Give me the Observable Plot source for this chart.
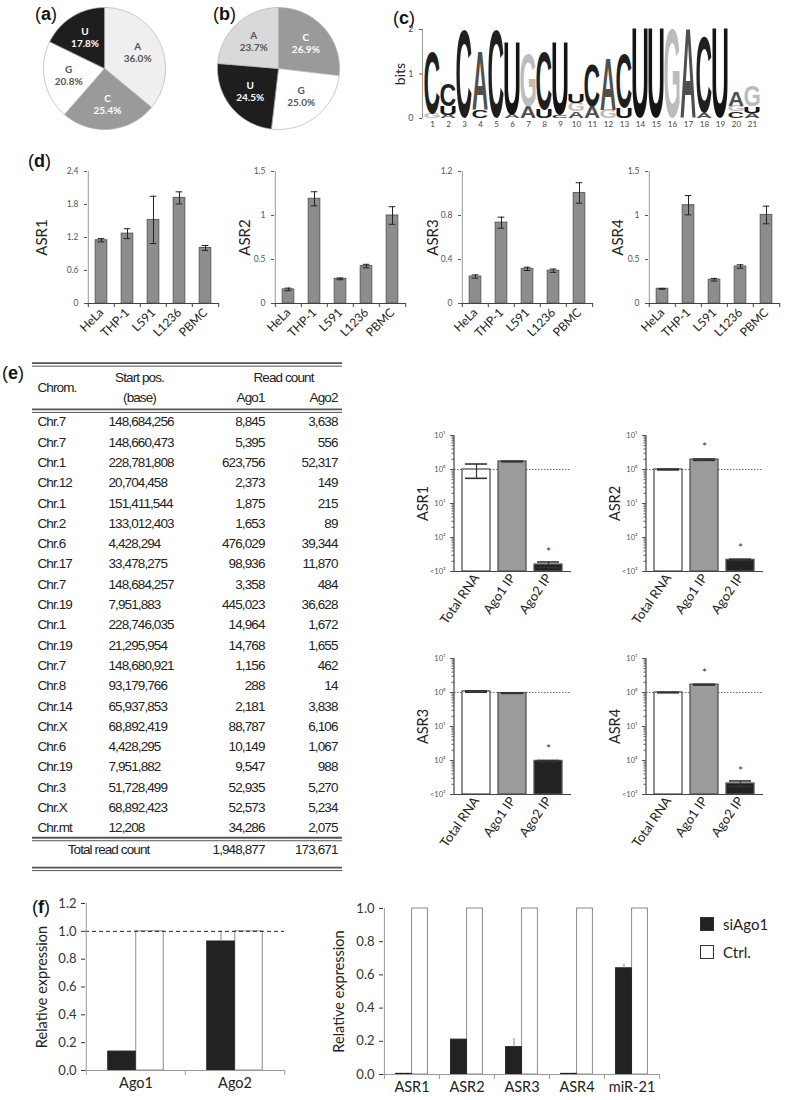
<!DOCTYPE html>
<html><head><meta charset="utf-8">
<script src="https://cdn.jsdelivr.net/npm/d3@7"></script>
<script src="https://cdn.jsdelivr.net/npm/@observablehq/plot@0.6"></script>
<style>
body{margin:0;background:#fff;}
#root{position:relative;width:800px;height:1100px;overflow:hidden;background:#fff;font-family:Lato,"Open Sans",sans-serif;}
.plabel{position:absolute;font-family:"Liberation Sans",Arial,sans-serif;font-size:18px;line-height:18px;color:#111;white-space:nowrap;}
.leg{position:absolute;font-family:Lato,"Open Sans",sans-serif;font-size:15px;color:#222;display:flex;align-items:center;gap:9px;}
.sw{width:14px;height:14px;border:1.5px solid #333;box-sizing:border-box;}
</style></head><body><div id="root"></div>
<script>
// ================= DATA =================
// (a) / (b) nucleotide composition pies
const pieALabels = ["A","C","G","U"];
const pieAValues = [36.0, 25.4, 20.8, 17.8];
const pieBLabels = ["C","G","U","A"];
const pieBValues = [26.9, 25.0, 24.5, 23.7];

// (c) sequence logo: per position, stacked letters bottom -> top with height in bits
const logoPositions = d3.range(1, 22);
const logoStacks = [
  [["G",0.10],["C",1.40]],
  [["A",0.07],["U",0.19],["C",0.49]],
  [["C",1.97]],
  [["C",0.18],["A",1.32]],
  [["C",1.97]],
  [["A",0.07],["U",1.63]],
  [["A",0.26],["G",1.18]],
  [["U",0.19],["C",1.31]],
  [["C",0.07],["U",1.63]],
  [["A",0.15],["G",0.19],["U",0.21]],
  [["A",0.26],["C",0.94]],
  [["G",0.19],["A",1.17]],
  [["U",0.22],["C",1.20]],
  [["U",2.0]],
  [["U",2.0]],
  [["G",2.0]],
  [["A",2.0]],
  [["A",0.11],["C",1.71]],
  [["U",2.0]],
  [["C",0.15],["G",0.13],["A",0.32]],
  [["A",0.11],["U",0.15],["G",0.47]]
];
const logoTicks = [0, 1, 2];

// (d) expression in cell lines
const dCells = ["HeLa","THP-1","L591","L1236","PBMC"];
const asr1Expr = [1.15, 1.27, 1.52, 1.92, 1.01];
const asr1Err  = [0.03, 0.09, 0.43, 0.11, 0.045];
const asr2Expr = [0.16, 1.19, 0.28, 0.425, 1.0];
const asr2Err  = [0.015, 0.08, 0.01, 0.02, 0.1];
const asr3Expr = [0.245, 0.735, 0.315, 0.298, 1.005];
const asr3Err  = [0.015, 0.05, 0.015, 0.015, 0.093];
const asr4Expr = [0.167, 1.117, 0.27, 0.42, 1.006];
const asr4Err  = [0.005, 0.11, 0.015, 0.02, 0.1];
const asr1Ticks = [0, 0.6, 1.2, 1.8, 2.4];
const asr2Ticks = [0, 0.5, 1, 1.5];
const asr3Ticks = [0, 0.4, 0.8, 1.2];
const asr4Ticks = [0, 0.5, 1, 1.5];

// (e) table
const tChrom = ["Chr.7","Chr.7","Chr.1","Chr.12","Chr.1","Chr.2","Chr.6","Chr.17","Chr.7","Chr.19","Chr.1","Chr.19","Chr.7","Chr.8","Chr.14","Chr.X","Chr.6","Chr.19","Chr.3","Chr.X","Chr.mt"];
const tStart = ["148,684,256","148,660,473","228,781,808","20,704,458","151,411,544","133,012,403","4,428,294","33,478,275","148,684,257","7,951,883","228,746,035","21,295,954","148,680,921","93,179,766","65,937,853","68,892,419","4,428,295","7,951,882","51,728,499","68,892,423","12,208"];
const tAgo1 = ["8,845","5,395","623,756","2,373","1,875","1,653","476,029","98,936","3,358","445,023","14,964","14,768","1,156","288","2,181","88,787","10,149","9,547","52,935","52,573","34,286"];
const tAgo2 = ["3,638","556","52,317","149","215","89","39,344","11,870","484","36,628","1,672","1,655","462","14","3,838","6,106","1,067","988","5,270","5,234","2,075"];
const tTotals = ["1,948,877","173,671"];

// (e) IP enrichment (log scale)
const ipSamples = ["Total RNA","Ago1 IP","Ago2 IP"];
const asr1IP = [1.0, 1.72, 0.0016];  const asr1IPErr = [0.45, 0.04, 0.0003]; const asr1Star = [false,false,true];
const asr2IP = [1.0, 1.95, 0.0022];  const asr2IPErr = [0.03, 0.09, 0.0001]; const asr2Star = [false,true,true];
const asr3IP = [1.07, 0.96, 0.0097]; const asr3IPErr = [0.05, 0.02, 0.0003]; const asr3Star = [false,false,true];
const asr4IP = [1.0, 1.70, 0.0021];  const asr4IPErr = [0.02, 0.05, 0.0004]; const asr4Star = [false,true,true];
const ipMajor = [10, 1, 0.1, 0.01, 0.001];
const ipMajorLabels = ["10\u00b9","10\u2070","10\u00b9","10\u00b2","<10\u00b3"];

// (f) knockdown
const fLeftGenes = ["Ago1","Ago2"];
const fLeftSi = [0.136, 0.927];
const fLeftSiErr = [0.004, 0.075];
const fLeftCtrl = [1.0, 1.0];
const fRightGenes = ["ASR1","ASR2","ASR3","ASR4","miR-21"];
const fRightSi = [0.004, 0.21, 0.165, 0.004, 0.64];
const fRightSiErr = [0.002, 0.003, 0.052, 0.002, 0.025];
const fRightCtrl = [1.0, 1.0, 1.0, 1.0, 1.0];
const fLegend = ["siAgo1","Ctrl."];

// ================= LAYOUT / HELPERS =================
const root = document.getElementById("root");
const FONT = 'Lato, "Open Sans", sans-serif';
const TFONT = '"Liberation Sans", Arial, sans-serif';
const STYLE = {background:"transparent", overflow:"visible", fontFamily: FONT};
function place(node, left, top){
  node.style.position = "absolute";
  node.style.left = left + "px";
  node.style.top = top + "px";
  root.appendChild(node);
  return node;
}
function panelLabel(letter, x, yc){
  const d = document.createElement("div");
  d.className = "plabel";
  d.innerHTML = "(<b>" + letter + "</b>)";
  d.style.left = x + "px"; d.style.top = (yc - 9) + "px";
  root.appendChild(d);
}
function yLabel(text, dx, fontSize){
  return Plot.text([text], {frameAnchor:"left", text: d => d, rotate:-90, dx, textAnchor:"middle", lineAnchor:"middle", fontSize, fill:"#222"});
}
function safe(fn){ try { fn(); } catch(e){ console.error(e); } }

// ================= (a) (b) PIES =================
function pieChart(labels, values, colors, left, top){
  const darkLetters = ["C","U"];
  const arcs = d3.pie().sort(null).value(d => d)(values);
  const pts = [];
  arcs.forEach((a, i) => {
    pts.push({k: labels[i], x: 0, y: 0});
    const n = Math.ceil((a.endAngle - a.startAngle) / 0.02);
    for (let j = 0; j <= n; j++) {
      const t = a.startAngle + (a.endAngle - a.startAngle) * j / n;
      pts.push({k: labels[i], x: Math.sin(t), y: Math.cos(t)});
    }
    pts.push({k: labels[i], x: 0, y: 0});
  });
  const labs = arcs.map((a, i) => {
    const m = (a.startAngle + a.endAngle) / 2;
    return {k: labels[i], v: values[i], x: 0.6*Math.sin(m), y: 0.6*Math.cos(m), dark: darkLetters.includes(labels[i])};
  });
  const txt = (f, fill) => [
    Plot.text(labs.filter(f), {x:"x", y:"y", text:"k", dy:-6, fill, fontWeight:"bold", fontSize:10}),
    Plot.text(labs.filter(f), {x:"x", y:"y", text: d => d.v.toFixed(1) + "%", dy:6, fill, fontWeight:"bold", fontSize:10})
  ];
  const svg = Plot.plot({
    width:124, height:124, margin:1, style:STYLE,
    x:{domain:[-1,1], axis:null}, y:{domain:[-1,1], axis:null},
    color:{domain:labels, range:colors},
    marks:[
      Plot.line(pts, {x:"x", y:"y", z:"k", fill:"k", stroke:"#b0b0b0", strokeWidth:0.7}),
      ...txt(d => d.dark, "#ffffff"),
      ...txt(d => !d.dark, "#555555")
    ]
  });
  place(svg, left, top);
}
safe(() => pieChart(pieALabels, pieAValues, ["#efefef","#9a9a9a","#ffffff","#1e1e1e"], 42, 6));
safe(() => pieChart(pieBLabels, pieBValues, ["#9a9a9a","#ffffff","#1e1e1e","#d9d9d9"], 216, 6));
panelLabel("a", 35, 14);
panelLabel("b", 213, 14);

// ================= (c) LOGO =================
safe(() => {
  const rows = [];
  logoStacks.forEach((stack, i) => {
    let base = 0;
    stack.forEach(([letter, h]) => { rows.push({pos: logoPositions[i], letter, y1: base, y2: base + h}); base += h; });
  });
  const W = 400, H = 140, ml = 44, mr = 20, mt = 29, mb = 22;
  const step = (W - ml - mr) / logoPositions.length;
  const svg = Plot.plot({
    width:W, height:H, marginLeft:ml, marginRight:mr, marginTop:mt, marginBottom:mb, style:STYLE,
    x:{type:"band", domain:logoPositions, padding:0},
    y:{domain:[0,2]},
    color:{domain:["A","C","G","U"], range:["#4f4f4f","#1f1f1f","#bcbcbc","#141414"]},
    marks:[
      Plot.text(rows, {x:"pos", y: d => (d.y1 + d.y2)/2, text:"letter", fill:"letter", ariaLabel:"logo", fontSize:12}),
      Plot.ruleX([logoPositions[0]], {x: d => d, y1:0, y2:2, dx:-step/2 - 2, stroke:"#999"}),
      Plot.axisY({ticks:logoTicks, tickFormat: d => String(d), tickSize:3, fontSize:9, color:"#555", label:null, dx:-2}),
      Plot.axisX({tickSize:0, fontSize:8, tickPadding:3, color:"#444", label:null}),
      yLabel("bits", -24, 14)
    ]
  });
  place(svg, 380, 0);
  // stretch letters to fill their stacked rectangles (positions from Plot's scales)
  const xs = svg.scale("x"), ys = svg.scale("y");
  const g = svg.querySelector('g[aria-label="logo"]') || svg.querySelector('g[aria-label="text"]');
  const texts = Array.from(g.querySelectorAll("text"));
  const ctx = document.createElement("canvas").getContext("2d");
  const LOGO_FONT = '"Liberation Sans", Arial, sans-serif';
  ctx.font = 'bold 100px ' + LOGO_FONT;
  const ng = document.createElementNS("http://www.w3.org/2000/svg", "g");
  svg.appendChild(ng);
  texts.forEach((t, i) => {
    const d = rows[i];
    const m = ctx.measureText(d.letter);
    const x0 = xs.apply(d.pos) + 0.4, x1 = xs.apply(d.pos) + xs.bandwidth - 0.4;
    const yTop = ys.apply(d.y2), yBot = ys.apply(d.y1);
    const iw = m.actualBoundingBoxLeft + m.actualBoundingBoxRight;
    const ih = m.actualBoundingBoxAscent + m.actualBoundingBoxDescent;
    const sx = (x1 - x0) / iw, sy = (yBot - yTop) / ih;
    const fill = t.getAttribute("fill");
    t.textContent = d.letter;
    ["x","y","dy","transform"].forEach(a => t.removeAttribute(a));
    t.setAttribute("x", 0); t.setAttribute("y", 0);
    t.setAttribute("text-anchor", "start");
    t.setAttribute("font-size", 100);
    t.setAttribute("font-weight", "bold");
    t.setAttribute("font-family", LOGO_FONT);
    if (fill) t.setAttribute("fill", fill);
    t.setAttribute("transform", `translate(${x0},${yBot}) scale(${sx},${sy}) translate(${m.actualBoundingBoxLeft},${-m.actualBoundingBoxDescent})`);
    ng.appendChild(t);
  });
});
panelLabel("c", 393, 18);

// ================= (d) BAR CHARTS =================
function barChartD(vals, errs, ticks, label, labelDx, axisX){
  const data = dCells.map((c, i) => ({c, v: vals[i], e: errs[i]}));
  const ymax = ticks[ticks.length - 1];
  const W = 230, H = 212, ml = 87, mr = 11, mt = 31, mb = H - 163;
  const bw = (W - ml - mr) / dCells.length;
  const ph = H - mt - mb;
  const tl = 4 * ymax / ph;
  const svg = Plot.plot({
    width:W, height:H, marginLeft:ml, marginRight:mr, marginTop:mt, marginBottom:mb, style:STYLE,
    x:{domain:dCells, padding:0}, y:{domain:[0, ymax]},
    marks:[
      Plot.barY(data, {x:"c", y:"v", fill:"#8d8d8d", stroke:"#5c5c5c", strokeWidth:1, insetLeft:(bw-12)/2, insetRight:(bw-12)/2}),
      Plot.ruleX(data, {x:"c", y1: d => d.v - d.e, y2: d => d.v + d.e, stroke:"#222"}),
      Plot.tickY(data, {x:"c", y: d => d.v + d.e, stroke:"#222", inset:(bw-7)/2}),
      Plot.tickY(data, {x:"c", y: d => d.v - d.e, stroke:"#222", inset:(bw-7)/2}),
      Plot.ruleY([0], {stroke:"#444"}),
      Plot.ruleX([dCells[0]], {x: d => d, y1:0, y2:ymax, dx:-bw/2, stroke:"#999"}),
      Plot.ruleX(dCells, {x: d => d, y1:0, y2:-tl, dx:-bw/2, stroke:"#444"}),
      Plot.ruleX([dCells[dCells.length-1]], {x: d => d, y1:0, y2:-tl, dx:bw/2, stroke:"#444"}),
      Plot.axisY({ticks, tickFormat: d => String(d), tickSize:3, fontSize:8.5, color:"#555", label:null}),
      Plot.axisX({tickSize:0, tickRotate:-45, fontSize:12, tickPadding:7, color:"#222", label:null}),
      yLabel(label, labelDx, 15)
    ]
  });
  place(svg, axisX - ml, 140);
}
safe(() => barChartD(asr1Expr, asr1Err, asr1Ticks, "ASR1", -45, 87));
safe(() => barChartD(asr2Expr, asr2Err, asr2Ticks, "ASR2", -29, 274));
safe(() => barChartD(asr3Expr, asr3Err, asr3Ticks, "ASR3", -28, 461));
safe(() => barChartD(asr4Expr, asr4Err, asr4Ticks, "ASR4", -30, 648));
panelLabel("d", 28, 161);

// ================= (e) TABLE =================
safe(() => {
  const W = 345, H = 525, top = 352, ROWH = 20.3, ROW0 = 421.5;
  const y0 = -(ROW0 - top) / ROWH, y1 = y0 + H / ROWH;
  const COL = {chrom:37, start:108, ago1:264, ago2:337, left:32, right:342, startHead:139, readHead:283, total:108};
  const rows = tChrom.map((c, i) => ({i, c, s: tStart[i], a1: tAgo1[i], a2: tAgo2[i]}));
  const T = {fontSize:13.5, fill:"#222", fontFamily: TFONT};
  const dbl = (r) => [
    Plot.ruleY([r], {x1:COL.left, x2:COL.right, stroke:"#555", strokeWidth:1.8}),
    Plot.ruleY([r], {x1:COL.left, x2:COL.right, dy:3, stroke:"#555", strokeWidth:1})
  ];
  const head = (t, x, r, anchor) => Plot.text([t], {x, y: r, text: d => d, textAnchor: anchor, ...T});
  const svg = Plot.plot({
    width:W, height:H, margin:0, style:{...STYLE, letterSpacing:"-0.9px"},
    x:{domain:[0, W], axis:null}, y:{domain:[y0, y1], reverse:true, axis:null},
    marks:[
      ...dbl(-2.9), ...dbl(-0.62), ...dbl(20.48), ...dbl(21.95),
      head("Chrom.", COL.chrom, -1.68, "start"),
      head("Start pos.", COL.startHead, -2.18, "middle"),
      head("(base)", COL.startHead, -1.18, "middle"),
      head("Read count", COL.readHead, -2.18, "middle"),
      head("Ago1", COL.ago1, -1.18, "end"),
      head("Ago2", COL.ago2, -1.18, "end"),
      Plot.text(rows, {x: COL.chrom, y:"i", text:"c", textAnchor:"start", ...T}),
      Plot.text(rows, {x: COL.start, y:"i", text:"s", textAnchor:"start", ...T}),
      Plot.text(rows, {x: COL.ago1, y:"i", text:"a1", textAnchor:"end", ...T}),
      Plot.text(rows, {x: COL.ago2, y:"i", text:"a2", textAnchor:"end", ...T}),
      head("Total read count", COL.total, 21.08, "middle"),
      head(tTotals[0], COL.ago1, 21.08, "end"),
      head(tTotals[1], COL.ago2, 21.08, "end")
    ]
  });
  place(svg, 0, top);
});
panelLabel("e", 2, 373);

// ================= (e) IP LOG CHARTS =================
function ipChart(vals, errs, stars, label, axisX, plotTop){
  const ml = 62, mr = 8, mt = 14, mb = 72, pw = 117, ph = 136;
  const W = ml + pw + mr, H = mt + ph + mb;
  const pi = 0.222, po = 0.236;
  const step = pw / (3 - pi + 2*po), bw = step * (1 - pi);
  const data = ipSamples.map((s, i) => ({s, v: vals[i], e: errs[i], star: stars[i]}));
  const minor = [];
  for (let k = -3; k < 1; k++) for (let m = 2; m <= 9; m++) minor.push(m * Math.pow(10, k));
  const majorLabel = new Map(ipMajor.map((v, i) => [v, ipMajorLabels[i]]));
  const svg = Plot.plot({
    width:W, height:H, marginLeft:ml, marginRight:mr, marginTop:mt, marginBottom:mb, style:STYLE,
    x:{domain:ipSamples, paddingInner:pi, paddingOuter:po},
    y:{type:"log", domain:[1e-3, 10]},
    color:{domain:ipSamples, range:["#ffffff","#9b9b9b","#222222"]},
    marks:[
      Plot.ruleY([1], {stroke:"#666", strokeDasharray:"1.5,1.5"}),
      Plot.barY(data, {x:"s", y1: () => 1e-3, y2:"v", fill:"s", stroke:"#555", strokeWidth:1.3}),
      Plot.ruleX(data, {x:"s", y1: d => d.v - d.e, y2: d => d.v + d.e, stroke:"#333", strokeWidth:1.2}),
      Plot.tickY(data, {x:"s", y: d => d.v + d.e, stroke:"#333", strokeWidth:1.6, inset:3}),
      Plot.tickY(data, {x:"s", y: d => d.v - d.e, stroke:"#333", strokeWidth:1.6, inset:3}),
      Plot.text(data.filter(d => d.star), {x:"s", y:"v", text: () => "*", dy:-12, fontSize:12, fill:"#333"}),
      Plot.ruleY([1e-3], {stroke:"#444", strokeWidth:1.2}),
      Plot.ruleX([ipSamples[0]], {x: d => d, y1:1e-3, y2:10, dx: -(bw/2 + po*step), stroke:"#444", strokeWidth:1.2}),
      Plot.axisY({ticks: ipMajor, tickFormat: d => majorLabel.get(d), tickSize:4, fontSize:7.5, color:"#555", label:null}),
      Plot.axisY({ticks: minor, tickFormat: () => "", tickSize:2.5, color:"#555", label:null}),
      Plot.axisX({tickSize:0, tickRotate:-55, fontSize:13, tickPadding:4, color:"#222", label:null}),
      yLabel(label, -31, 14.5)
    ]
  });
  place(svg, axisX - ml, plotTop - mt);
}
safe(() => ipChart(asr1IP, asr1IPErr, asr1Star, "ASR1", 454, 435));
safe(() => ipChart(asr2IP, asr2IPErr, asr2Star, "ASR2", 646, 435));
safe(() => ipChart(asr3IP, asr3IPErr, asr3Star, "ASR3", 454, 658));
safe(() => ipChart(asr4IP, asr4IPErr, asr4Star, "ASR4", 646, 658));

// ================= (f) KNOCKDOWN =================
function fChart(genes, si, siErr, ctrl, ticks, barW, cfg){
  const {left, top, W, H, ml, mr, mt, mb, dashed, labelDx} = cfg;
  const ymax = ticks[ticks.length - 1];
  const bw = (W - ml - mr) / genes.length;
  const ph = H - mt - mb;
  const tl = 5 * ymax / ph;
  const dSi = genes.map((g, i) => ({g, v: si[i], e: siErr[i]}));
  const dCt = genes.map((g, i) => ({g, v: ctrl[i]}));
  const svg = Plot.plot({
    width:W, height:H, marginLeft:ml, marginRight:mr, marginTop:mt, marginBottom:mb, style:STYLE,
    x:{domain:genes, padding:0}, y:{domain:[0, ymax]},
    marks:[
      Plot.barY(dCt, {x:"g", y:"v", fill:"#ffffff", stroke:"#8a8a8a", strokeWidth:1, insetLeft:bw/2, insetRight:bw/2 - barW}),
      Plot.barY(dSi, {x:"g", y:"v", fill:"#222222", stroke:"#222222", strokeWidth:1, insetLeft:bw/2 - barW, insetRight:bw/2}),
      Plot.ruleX(dSi, {x:"g", y1:"v", y2: d => d.v + d.e, dx:-barW/2, stroke:"#888"}),
      ...(dashed ? [Plot.ruleY([1], {stroke:"#222", strokeDasharray:"4,3"})] : []),
      Plot.ruleY([0], {stroke:"#999"}),
      Plot.ruleX([genes[0]], {x: d => d, y1:0, y2:ymax, dx:-bw/2, stroke:"#999"}),
      Plot.ruleX(genes, {x: d => d, y1:0, y2:-tl, dx:-bw/2, stroke:"#999"}),
      Plot.ruleX([genes[genes.length-1]], {x: d => d, y1:0, y2:-tl, dx:bw/2, stroke:"#999"}),
      Plot.axisY({ticks, tickFormat: d3.format(".1f"), tickSize:4, fontSize:13, color:"#333", label:null}),
      Plot.axisX({tickSize:0, fontSize:14.5, tickPadding:7, color:"#222", label:null}),
      yLabel("Relative expression", labelDx, 14.5)
    ]
  });
  place(svg, left, top);
}
safe(() => fChart(fLeftGenes, fLeftSi, fLeftSiErr, fLeftCtrl, [0,0.2,0.4,0.6,0.8,1.0,1.2], 28,
  {left:0, top:890, W:300, H:210, ml:85, mr:16, mt:13, mb:30, dashed:true, labelDx:-43}));
safe(() => fChart(fRightGenes, fRightSi, fRightSiErr, fRightCtrl, [0,0.2,0.4,0.6,0.8,1.0], 16,
  {left:330, top:895, W:340, H:205, ml:53, mr:11, mt:13, mb:26, dashed:false, labelDx:-44}));
panelLabel("f", 32, 907);

// legend
[["#222222", fLegend[0], 917], ["#ffffff", fLegend[1], 945]].forEach(([c, t, y]) => {
  const d = document.createElement("div");
  d.className = "leg";
  d.style.left = "700px"; d.style.top = (y - 2) + "px";
  d.innerHTML = `<div class="sw" style="background:${c}"></div><span>${t}</span>`;
  root.appendChild(d);
});
</script>
</body></html>
